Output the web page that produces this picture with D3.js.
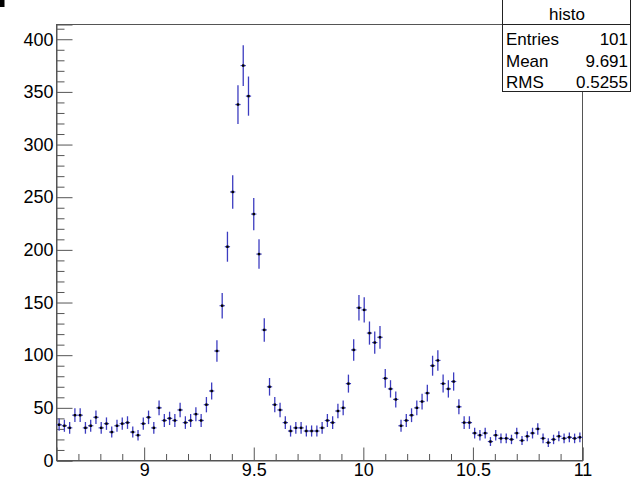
<!DOCTYPE html>
<html>
<head>
<meta charset="utf-8">
<script src="https://cdn.jsdelivr.net/npm/d3@7"></script>
<style>
  body { margin: 0; background: #fff; }
  svg text { font-family: "Liberation Sans", Arial, sans-serif; fill: #000; }
</style>
</head>
<body>
<div id="chart"></div>
<script>
// histograma: 100 bins entre 8.6 e 11
const xMin = 8.6, xMax = 11, nBins = 100;
const counts = [
  34, 33, 31, 43, 43, 31, 33, 41, 31, 35,
  27, 33, 35, 36, 27, 24, 35, 41, 31, 50,
  38, 40, 38, 48, 36, 38, 44, 38, 53, 66,
  104, 147, 203, 255, 338, 375, 346, 234, 196, 124,
  70, 53, 48, 36, 28, 31, 31, 28, 28, 28,
  31, 38, 36, 47, 50, 73, 105, 145, 143, 121,
  112, 117, 78, 68, 58, 33, 38, 43, 50, 56,
  64, 90, 95, 73, 68, 75, 51, 36, 36, 26,
  24, 26, 18, 24, 21, 21, 20, 26, 19, 23,
  26, 30, 21, 17, 20, 23, 21, 22, 21, 22
];
const yMajor = [0, 50, 100, 150, 200, 250, 300, 350, 400];
const xMajor = [9, 9.5, 10, 10.5, 11];
const statsTitle = "histo";
const statsRows = [["Entries", "101"], ["Mean", "9.691"], ["RMS", "0.5255"]];

const W = 633, H = 480;
const frame = {left: 56.5, right: 582.5, top: 24.5, bottom: 460.5};

const svg = d3.select("#chart").append("svg")
    .attr("width", W)
    .attr("height", H);

const binW = (xMax - xMin) / nBins;
const data = counts.map((c, i) => ({x: xMin + binW * (i + 0.5), n: c, e: Math.sqrt(c)}));

const x = d3.scaleLinear().domain([xMin, xMax]).range([frame.left, frame.right]);
const y = d3.scaleLinear().domain([0, 414]).range([frame.bottom, frame.top]);

// moldura
svg.append("rect")
    .attr("x", frame.left).attr("y", frame.top)
    .attr("width", frame.right - frame.left)
    .attr("height", frame.bottom - frame.top)
    .attr("fill", "none")
    .attr("stroke", "#555");

// eixo y: ticks para dentro
const yMinor = d3.range(0, 411, 10).filter(v => v % 50 !== 0);
svg.append("g")
    .attr("transform", `translate(${frame.left},0)`)
    .call(d3.axisLeft(y).tickValues(yMinor).tickSize(-8).tickFormat(""))
    .call(g => g.select(".domain").remove());
svg.append("g")
    .attr("transform", `translate(${frame.left},0)`)
    .call(d3.axisLeft(y).tickValues(yMajor).tickSize(-16).tickPadding(3).tickFormat(d3.format("d")))
    .call(g => g.select(".domain").attr("stroke", "#555"))
    .call(g => g.selectAll("text").style("font-size", "18px"));

// eixo x
const xMinor = d3.range(8.7, 11, 0.1).filter(v => Math.abs(v * 2 - Math.round(v * 2)) > 1e-6);
svg.append("g")
    .attr("transform", `translate(0,${frame.bottom})`)
    .call(d3.axisBottom(x).tickValues(xMinor).tickSize(-6.5).tickFormat(""))
    .call(g => g.select(".domain").remove());
svg.append("g")
    .attr("transform", `translate(0,${frame.bottom})`)
    .call(d3.axisBottom(x).tickValues(xMajor).tickSize(-13).tickPadding(3).tickFormat(d3.format("")))
    .call(g => g.select(".domain").attr("stroke", "#555"))
    .call(g => g.selectAll("text").style("font-size", "18px"));

svg.selectAll(".tick line").attr("stroke", "#555");

// barras de erro
const pts = svg.append("g").selectAll("g")
    .data(data)
    .enter()
    .append("g");

pts.append("line")
    .attr("x1", d => x(d.x)).attr("x2", d => x(d.x))
    .attr("y1", d => y(d.n - d.e)).attr("y2", d => y(d.n + d.e))
    .attr("stroke", "#3c3cc0")
    .attr("stroke-width", 1.3);

pts.append("line")
    .attr("x1", d => x(d.x - binW / 2)).attr("x2", d => x(d.x + binW / 2))
    .attr("y1", d => y(d.n)).attr("y2", d => y(d.n))
    .attr("stroke", "#3c3cc0")
    .attr("stroke-width", 1.2);

pts.append("rect")
    .attr("x", d => x(d.x) - 1.2).attr("y", d => y(d.n) - 1.2)
    .attr("width", 2.4).attr("height", 2.4)
    .attr("fill", "#000");

// caixa de estatísticas
const box = svg.append("g");
box.append("rect")
    .attr("x", 502.5).attr("y", -0.5)
    .attr("width", 128).attr("height", 92)
    .attr("fill", "#fff")
    .attr("stroke", "#222");
box.append("line")
    .attr("x1", 502.5).attr("x2", 630.5)
    .attr("y1", 24.5).attr("y2", 24.5)
    .attr("stroke", "#222");
box.append("text")
    .attr("x", 567).attr("y", 20)
    .attr("text-anchor", "middle")
    .style("font-size", "17px")
    .text(statsTitle);
statsRows.forEach((r, i) => {
    box.append("text")
        .attr("x", 506).attr("y", 45 + i * 21.5)
        .style("font-size", "17px")
        .text(r[0]);
    box.append("text")
        .attr("x", 628).attr("y", 45 + i * 21.5)
        .attr("text-anchor", "end")
        .style("font-size", "17px")
        .text(r[1]);
});

// marca no canto superior esquerdo
svg.append("rect")
    .attr("x", 0).attr("y", 0)
    .attr("width", 4.5).attr("height", 7)
    .attr("fill", "#000");
</script>
</body>
</html>
